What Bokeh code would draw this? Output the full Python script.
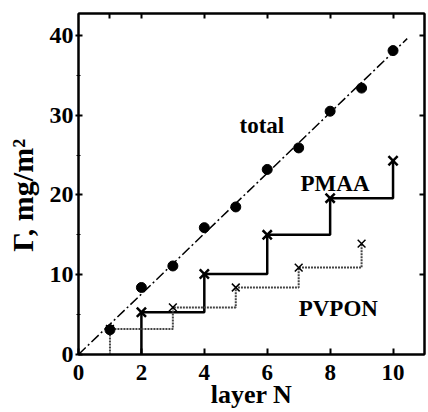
from bokeh.plotting import figure
from bokeh.models import LinearAxis, Range1d, Label, FixedTicker, CustomLabelingPolicy
from bokeh.embed import file_html
from bokeh.resources import INLINE

# ---- data ----
layers_total = [1, 2, 3, 4, 5, 6, 7, 8, 9, 10]
total = [3.1, 8.4, 11.1, 15.9, 18.5, 23.2, 25.9, 30.5, 33.4, 38.1]

layers_pmaa = [2, 4, 6, 8, 10]
pmaa = [5.3, 10.1, 15.0, 19.6, 24.3]

layers_pvpon = [1, 3, 5, 7, 9]
pvpon = [3.2, 5.9, 8.4, 10.9, 13.9]

fit_x = [0, 10.45]
fit_y = [0, 39.6]

x_ticks = [0, 2, 4, 6, 8, 10]
y_ticks = [0, 10, 20, 30, 40]
y_minor = [5, 15, 25, 35]
top_ticks = [1, 2, 4, 6, 8, 10]
right_ticks = [10, 20, 30, 40]


def steps(xs, ys):
    sx, sy = [xs[0]], [0]
    for i, (x, y) in enumerate(zip(xs, ys)):
        sx.append(x)
        sy.append(y)
        if i + 1 < len(xs):
            sx.append(xs[i + 1])
            sy.append(y)
    return sx, sy


FONT = "Liberation Serif"

p = figure(width=428, height=412, x_range=Range1d(0, 11), y_range=Range1d(0, 42.75),
           output_backend="svg", toolbar_location=None,
           min_border_left=78, min_border_right=1, min_border_top=13, min_border_bottom=58)
p.grid.visible = False
p.outline_line_color = "black"
p.outline_line_width = 2
p.background_fill_color = "white"
p.border_fill_color = "white"

# bottom axis
xa = p.xaxis[0]
xa.ticker = FixedTicker(ticks=x_ticks)
xa.major_tick_in = 6
xa.major_tick_out = 0
xa.minor_tick_line_color = None
xa.axis_line_width = 2
xa.major_tick_line_width = 2
xa.major_label_text_font = FONT
xa.major_label_text_font_style = "bold"
xa.major_label_text_font_size = "23px"
xa.major_label_text_color = "black"
xa.major_label_standoff = 10
xa.axis_label = "layer N"
xa.axis_label_text_font = FONT
xa.axis_label_text_font_style = "bold"
xa.axis_label_text_font_size = "26px"
xa.axis_label_text_color = "black"
xa.axis_label_standoff = -3

# left axis
ya = p.yaxis[0]
ya.ticker = FixedTicker(ticks=y_ticks, minor_ticks=y_minor)
ya.major_tick_in = 4
ya.major_tick_out = 3
ya.minor_tick_in = 2
ya.minor_tick_out = 2
ya.axis_line_width = 2
ya.major_tick_line_width = 2
ya.major_label_text_font = FONT
ya.major_label_text_font_style = "bold"
ya.major_label_text_font_size = "24px"
ya.major_label_text_color = "black"
ya.major_label_standoff = 2
ya.axis_label = "Γ, mg/m²\u00a0\u00a0\u00a0"
ya.axis_label_text_font = FONT
ya.axis_label_text_font_style = "bold"
ya.axis_label_text_font_size = "30px"
ya.axis_label_text_color = "black"
ya.axis_label_standoff = 8

# top and right axes: ticks only, no labels drawn
no_labels = "for (let i = 0; i < indices.size; i++) { indices.unset(i) }; return indices"
top = LinearAxis(ticker=FixedTicker(ticks=top_ticks),
                 major_label_policy=CustomLabelingPolicy(code=no_labels),
                 major_label_text_font_size="1px", major_tick_in=5, major_tick_out=0,
                 major_label_standoff=0, minor_tick_line_color=None, axis_line_width=2,
                 major_tick_line_width=2)
p.add_layout(top, "above")
right = LinearAxis(ticker=FixedTicker(ticks=right_ticks),
                   major_label_policy=CustomLabelingPolicy(code=no_labels),
                   major_label_text_font_size="1px", major_tick_in=5, major_tick_out=0,
                   major_label_standoff=0, minor_tick_line_color=None, axis_line_width=2,
                   major_tick_line_width=2)
p.add_layout(right, "right")

# fit line for total
p.line(fit_x, fit_y, line_color="black", line_width=1.5, line_dash="10 3 2 3")

# step lines
px, py = steps(layers_pmaa, pmaa)
p.line(px, py, line_color="black", line_width=2.5)
vx, vy = steps(layers_pvpon, pvpon)
p.line(vx, vy, line_color="#444444", line_width=2, line_dash="2 1")

# markers
p.scatter(layers_total, total, marker="circle", size=10, fill_color="black", line_color="black")
p.scatter(layers_pmaa, pmaa, marker="x", size=13, line_color="black", line_width=2.5)
p.scatter(layers_pvpon, pvpon, marker="x", size=11, line_color="black", line_width=1.5)

# text labels
for txt, x, y in [("total", 5.12, 28.7), ("PMAA", 7.06, 21.4), ("PVPON", 7.0, 5.8)]:
    p.add_layout(Label(x=x, y=y, text=txt, text_font=FONT, text_font_style="bold",
                       text_font_size="23px", text_color="black", text_baseline="alphabetic"))

open("out.html", "w").write(file_html(p, INLINE))
